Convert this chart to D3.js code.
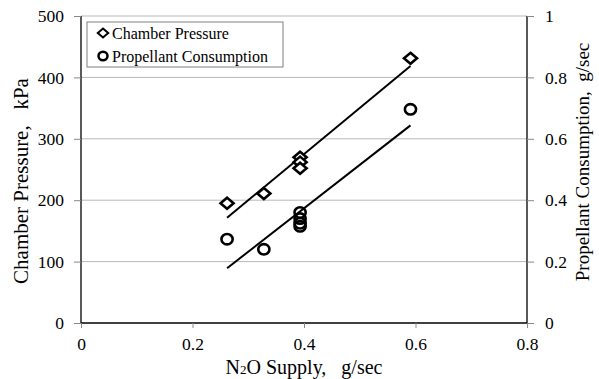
<!DOCTYPE html>
<html>
<head>
<meta charset="utf-8">
<script src="https://cdn.jsdelivr.net/npm/d3@7"></script>
<style>
  body { margin: 0; background: white; }
  text { font-family: "Liberation Serif", "Times New Roman", serif; fill: black; }
</style>
</head>
<body>
<div id="container"></div>
<script>
let w = 599;
let h = 379;

// data
let supply = [0.262, 0.328, 0.393, 0.393, 0.393, 0.591];
let pressure = [195, 211, 270, 262, 252, 431];
let supply2 = [0.262, 0.328, 0.393, 0.393, 0.393, 0.393, 0.591];
let consumption = [0.273, 0.240, 0.360, 0.340, 0.325, 0.315, 0.696];
let xTicks = [0, 0.2, 0.4, 0.6, 0.8];
let leftTicks = [0, 100, 200, 300, 400, 500];
let rightTicks = [0, 0.2, 0.4, 0.6, 0.8, 1];

let padL = 81, padR = 527, padT = 16, padB = 323;
let serif = "'Liberation Serif', 'Times New Roman', serif";

let svg = d3.select("#container").append("svg")
    .attr("width", w)
    .attr("height", h);

let x = d3.scaleLinear().domain([0, 0.8]).range([padL, padR]);
let yL = d3.scaleLinear().domain([0, 500]).range([padB, padT]);
let yR = d3.scaleLinear().domain([0, 1]).range([padB, padT]);

// gridlines
svg.selectAll(".grid").data(leftTicks.slice(1)).enter()
  .append("line")
    .attr("x1", padL).attr("x2", padR)
    .attr("y1", d => yL(d)).attr("y2", d => yL(d))
    .attr("stroke", "#b8b8b8")
    .attr("stroke-width", 1);

// axes
let fmt = d => d3.format("~g")(d);
let axL = svg.append("g").attr("transform", "translate(" + padL + ",0)")
  .call(d3.axisLeft(yL).tickValues(leftTicks).tickSize(7).tickPadding(10).tickFormat(fmt));
let axR = svg.append("g").attr("transform", "translate(" + padR + ",0)")
  .call(d3.axisRight(yR).tickValues(rightTicks).tickSize(7).tickPadding(11).tickFormat(fmt));
let axB = svg.append("g").attr("transform", "translate(0," + padB + ")")
  .call(d3.axisBottom(x).tickValues(xTicks).tickSize(5).tickPadding(10).tickFormat(fmt));

[axL, axR, axB].forEach(function(a){
  a.attr("font-family", serif).attr("font-size", 17.5);
  a.select(".domain").attr("stroke", "black").attr("stroke-width", 1.3);
  a.selectAll(".tick line").attr("stroke", "#888");
  a.selectAll(".tick text").attr("fill", "black");
});
axL.select(".domain").attr("d", "M0," + padT + "V" + padB);
axR.select(".domain").attr("d", "M0," + padT + "V" + padB);
axB.select(".domain").attr("d", "M" + padL + ",0H" + padR);

// trendlines (least squares)
function fit(xs, ys){
  let mx = d3.mean(xs), my = d3.mean(ys);
  let sxy = d3.sum(xs, (v, i) => (v - mx) * (ys[i] - my));
  let sxx = d3.sum(xs, v => (v - mx) * (v - mx));
  let b = sxy / sxx;
  let x0 = d3.min(xs), x1 = d3.max(xs);
  return [[x0, my + b * (x0 - mx)], [x1, my + b * (x1 - mx)]];
}
let line1 = fit(supply, pressure);
let line2 = fit(supply2, consumption);
svg.append("line")
  .attr("x1", x(line1[0][0])).attr("y1", yL(line1[0][1]))
  .attr("x2", x(line1[1][0])).attr("y2", yL(line1[1][1]))
  .attr("stroke", "black").attr("stroke-width", 2);
svg.append("line")
  .attr("x1", x(line2[0][0])).attr("y1", yR(line2[0][1]))
  .attr("x2", x(line2[1][0])).attr("y2", yR(line2[1][1]))
  .attr("stroke", "black").attr("stroke-width", 2);

// markers
let diamond = "M0,-5.5L6.5,0L0,5.5L-6.5,0Z";
svg.selectAll(".dia").data(pressure).enter()
  .append("path")
    .attr("d", diamond)
    .attr("transform", (d, i) => "translate(" + x(supply[i]) + "," + yL(d) + ")")
    .attr("fill", "white").attr("stroke", "black").attr("stroke-width", 2.6);
svg.selectAll(".circ").data(consumption).enter()
  .append("ellipse")
    .attr("cx", (d, i) => x(supply2[i]))
    .attr("cy", d => yR(d))
    .attr("rx", 5.6).attr("ry", 5.2)
    .attr("fill", "none").attr("stroke", "black").attr("stroke-width", 2.6);

// legend
let lg = svg.append("g");
lg.append("rect").attr("x", 87).attr("y", 22).attr("width", 196).attr("height", 45)
  .attr("fill", "white").attr("stroke", "#808080");
lg.append("path").attr("d", diamond).attr("transform", "translate(103,33) scale(0.8)")
  .attr("fill", "white").attr("stroke", "black").attr("stroke-width", 2.5);
lg.append("ellipse").attr("cx", 103).attr("cy", 56).attr("rx", 4.5).attr("ry", 4.2)
  .attr("fill", "none").attr("stroke", "black").attr("stroke-width", 2.5);
lg.append("text").attr("x", 112).attr("y", 39).style("font-size", "16px").text("Chamber Pressure");
lg.append("text").attr("x", 112).attr("y", 62).style("font-size", "16px").text("Propellant Consumption");

// axis titles
let xt = svg.append("text").attr("x", 304).attr("y", 374).attr("text-anchor", "middle")
  .style("font-size", "20px").attr("xml:space", "preserve");
xt.append("tspan").text("N");
xt.append("tspan").text("2").style("font-size", "13px");
xt.append("tspan").text("O Supply,   g/sec");

svg.append("text").attr("transform", "translate(28,181) rotate(-90)")
  .attr("text-anchor", "middle").style("font-size", "21px").attr("xml:space", "preserve")
  .text("Chamber Pressure,   kPa");
svg.append("text").attr("transform", "translate(589,162) rotate(-90)")
  .attr("text-anchor", "middle").style("font-size", "19px").attr("xml:space", "preserve")
  .text("Propellant Consumption,  g/sec");
</script>
</body>
</html>
